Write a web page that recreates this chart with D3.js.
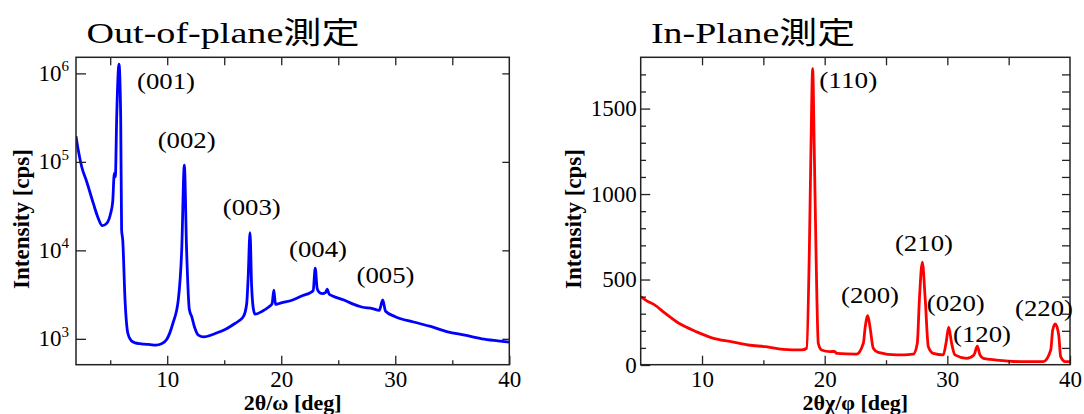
<!DOCTYPE html>
<html><head><meta charset="utf-8">
<script src="https://cdn.jsdelivr.net/npm/d3@7"></script>
<style>
body{margin:0;background:#fff;}
svg{display:block;}
</style>
</head><body>
<svg id="c" width="1084" height="414"></svg>
<script>
// ---------- Data ----------
// Out-of-plane (2θ/ω, log intensity)
const outX = [2.0, 2.2, 2.5, 2.94, 3.52, 3.9, 4.31, 4.69, 5.04, 5.22, 5.36, 5.45, 5.57, 5.77, 5.92, 6.0, 6.1, 6.3, 6.55, 6.85,
  7.2, 7.6, 8.0, 8.5, 9.0, 9.5, 9.95, 10.5, 10.97, 11.27, 11.5, 11.7, 11.94, 12.15, 12.4, 12.73, 13.2, 14.0, 14.6, 15.2,
  15.8, 16.3, 16.7, 16.97, 17.1, 17.26, 17.4, 17.55, 17.7, 18.3, 18.9, 19.2, 19.35, 19.5, 20.0, 21.0, 21.9, 22.5, 22.8, 22.98,
  23.15, 23.3, 23.6, 23.9, 24.03, 24.2, 24.5, 25.5, 26.2, 27.05, 28.0, 28.6, 28.9, 29.15, 30.0, 31.6, 33.1, 34.6, 36.1, 37.6, 39.0, 40.0];
const outY = [195000, 135000, 88000, 59600, 33900, 24000, 19000, 20200, 26300, 35500, 74100, 67600, 324000, 1270000, 324000, 17000, 13000, 2750, 1150, 950,
  900, 880, 870, 860, 850, 880, 980, 1500, 2750, 10000, 92000, 10000, 2140, 1780, 1350, 1100, 1050, 1120, 1200, 1300,
  1450, 1600, 1800, 2510, 5000, 15800, 4000, 2200, 1900, 2040, 2290, 2500, 3550, 2450, 2550, 2750, 3090, 3300, 3500, 6300,
  3700, 3390, 3240, 3350, 3650, 3200, 3050, 2750, 2500, 2290, 2200, 2100, 2750, 2050, 1780, 1550, 1380, 1200, 1100, 1000, 950, 920];

// In-plane (2θχ/φ, linear intensity)
const inX = [5.0, 5.5, 6.13, 6.98, 8.11, 9.53, 10.94, 12.36, 13.77, 15.19, 16.6, 18.15, 18.53, 18.75, 18.88, 19.02, 19.15, 19.29, 19.48, 19.75,
  20.43, 20.8, 20.98, 22.6, 23.15, 23.3, 23.51, 23.7, 23.96, 24.37, 25.87, 27.23, 27.55, 27.72, 27.96, 28.2, 28.45, 28.86, 29.67, 29.89,
  30.11, 30.35, 30.62, 31.58, 32.17, 32.44, 32.66, 32.93, 34.0, 35.92, 37.82, 38.43, 38.59, 38.8, 39.08, 39.24, 39.6, 40.0];
const inY = [400, 375, 352, 303, 244, 195, 156, 137, 117, 107, 92, 88, 98, 674, 1264, 1733, 1264, 674, 127, 88,
  78, 80, 68, 64, 127, 220, 289, 220, 98, 74, 59, 64, 127, 381, 602, 381, 107, 68, 59, 127,
  221, 127, 59, 39, 59, 111, 59, 39, 29, 20, 20, 88, 205, 240, 176, 49, 20, 20];

// Ticks
const outXTicks = [10, 20, 30, 40];
const outXMinor = [5, 15, 25, 35];
const outXTop = [5, 10, 15, 20, 25, 30, 35];
const outYTicks = [1e3, 1e4, 1e5, 1e6];
const outYExp = ["3", "4", "5", "6"];
const inXTicks = [10, 20, 30, 40];
const inXMinor = [15, 25, 35];
const inXTop = [10, 15, 20, 25, 30, 35];
const inYTicks = [0, 500, 1000, 1500];
const inYMinor = [100, 200, 300, 400, 600, 700, 800, 900, 1100, 1200, 1300, 1400, 1600, 1700];
const inYRight = [100, 200, 300, 400, 500, 600, 700, 800, 900, 1000, 1100, 1200, 1300, 1400, 1500, 1600, 1700];

// Peak labels (anchor = left edge / baseline, in data units)
const outLabels = ["(001)", "(002)", "(003)", "(004)", "(005)"];
const outLabelX = [7.35, 9.16, 14.87, 20.68, 26.6];
const outLabelY = [665000, 143000, 25000, 8400, 4270];
const inLabels = ["(110)", "(210)", "(200)", "(020)", "(120)", "(220)"];
const inLabelX = [19.56, 25.73, 21.33, 28.32, 30.46, 35.52];
const inLabelY = [1618, 668, 363, 317, 135, 287];

// ---------- Drawing ----------
const svg = d3.select("#c");
const SERIF = '"Liberation Serif","Times New Roman",serif';
const TITLE_FONT = '"Liberation Serif","Times New Roman","Noto Sans CJK JP",serif';
const AX = "#222";
const PT = 57.3, PB = 364.7;

function styleAxis(g) {
  g.select(".domain").remove();
  g.selectAll("line").attr("stroke", AX).attr("stroke-width", 1.3);
  g.selectAll("text").attr("font-family", SERIF).attr("font-size", 23).attr("fill", "#000");
}

function panel(opts) {
  const {x0, x1, xDom, y, xTicks, xMinor, xTop, color, xs, ys, labels, lx, ly, title, titleLen, xTitle, yTitleX} = opts;
  const x = d3.scaleLinear().domain(xDom).range([x0, x1]);
  const g = svg.append("g");

  const cid = "clip" + Math.round(x0);
  svg.append("clipPath").attr("id", cid).append("rect")
    .attr("x", x0).attr("y", PT).attr("width", x1 - x0).attr("height", PB - PT);

  const line = d3.line().x((d, i) => x(xs[i])).y((d, i) => y(ys[i])).curve(d3.curveMonotoneX);
  g.append("path").datum(xs).attr("d", line).attr("fill", "none")
    .attr("stroke", color).attr("stroke-width", 2.8).attr("stroke-linejoin", "round")
    .attr("clip-path", `url(#${cid})`);

  g.append("g").attr("transform", `translate(0,${PB})`)
    .call(d3.axisBottom(x).tickValues(xTicks).tickSize(-9).tickPadding(6).tickFormat(d3.format("d")))
    .call(styleAxis);
  g.append("g").attr("transform", `translate(0,${PB})`)
    .call(d3.axisBottom(x).tickValues(xMinor).tickSize(-4.5).tickFormat(""))
    .call(styleAxis);
  g.append("g").attr("transform", `translate(0,${PT})`)
    .call(d3.axisTop(x).tickValues(xTop).tickSize(-8).tickFormat(""))
    .call(styleAxis);

  g.append("rect").attr("x", x0).attr("y", PT).attr("width", x1 - x0).attr("height", PB - PT)
    .attr("fill", "none").attr("stroke", AX).attr("stroke-width", 1.5);

  g.selectAll("text.pk").data(labels).join("text").attr("class", "pk")
    .attr("x", (d, i) => x(lx[i])).attr("y", (d, i) => y(ly[i]))
    .attr("font-family", SERIF).attr("font-size", 23)
    .attr("textLength", 58).attr("lengthAdjust", "spacingAndGlyphs")
    .text(d => d);

  g.append("text").attr("x", opts.titleX).attr("y", 43)
    .attr("font-family", TITLE_FONT).attr("font-size", 30)
    .attr("textLength", titleLen).attr("lengthAdjust", "spacingAndGlyphs")
    .text(title);

  g.append("text").attr("x", (x0 + x1) / 2).attr("y", 409.5).attr("text-anchor", "middle")
    .attr("font-family", SERIF).attr("font-weight", "bold").attr("font-size", 22)
    .text(xTitle);

  g.append("text").attr("transform", `translate(${yTitleX},219) rotate(-90)`).attr("text-anchor", "middle")
    .attr("font-family", SERIF).attr("font-weight", "bold").attr("font-size", 23)
    .text("Intensity [cps]");

  return {g, x};
}

// ----- Left: Out-of-plane -----
const L0 = 76, L1 = 509.3;
const yL = d3.scaleLog().domain([510, 1.52e6]).range([PB, PT]);
const left = panel({x0: L0, x1: L1, xDom: [2, 40], y: yL, xTicks: outXTicks, xMinor: outXMinor, xTop: outXTop,
  color: "#0000ff", xs: outX, ys: outY, labels: outLabels, lx: outLabelX, ly: outLabelY,
  title: "Out-of-plane測定", titleX: 86.5, titleLen: 273, xTitle: "2θ/ω [deg]", yTitleX: 29});

left.g.append("g").attr("transform", `translate(${L0},0)`)
  .call(d3.axisLeft(yL).tickValues(outYTicks).tickSize(-10).tickFormat(""))
  .call(styleAxis);
left.g.append("g").attr("transform", `translate(${L1},0)`)
  .call(d3.axisRight(yL).tickValues(outYTicks).tickSize(-7).tickFormat(""))
  .call(styleAxis);
const lt = left.g.selectAll("text.lt").data(outYTicks).join("text").attr("class", "lt")
  .attr("x", L0 - 7).attr("y", d => yL(d) + 7.4).attr("text-anchor", "end")
  .attr("font-family", SERIF).attr("font-size", 23);
lt.append("tspan").text("10");
lt.append("tspan").attr("dy", -9.5).attr("font-size", 15).text((d, i) => outYExp[i]);

// ----- Right: In-plane -----
const R0 = 640.7, R1 = 1070;
const yR = d3.scaleLinear().domain([0, 1800]).range([PB + 0.3, PT]);
const right = panel({x0: R0, x1: R1, xDom: [5, 40], y: yR, xTicks: inXTicks, xMinor: inXMinor, xTop: inXTop,
  color: "#ff0000", xs: inX, ys: inY, labels: inLabels, lx: inLabelX, ly: inLabelY,
  title: "In-Plane測定", titleX: 651, titleLen: 204, xTitle: "2θχ/φ [deg]", yTitleX: 581});

right.g.append("g").attr("transform", `translate(${R0},0)`)
  .call(d3.axisLeft(yR).tickValues(inYTicks).tickSize(-9.5).tickPadding(4).tickFormat(d3.format("d")))
  .call(styleAxis);
right.g.append("g").attr("transform", `translate(${R0},0)`)
  .call(d3.axisLeft(yR).tickValues(inYMinor).tickSize(-5.3).tickFormat(""))
  .call(styleAxis);
right.g.append("g").attr("transform", `translate(${R1},0)`)
  .call(d3.axisRight(yR).tickValues(inYRight).tickSize(-8).tickFormat(""))
  .call(styleAxis);
</script>
</body></html>
